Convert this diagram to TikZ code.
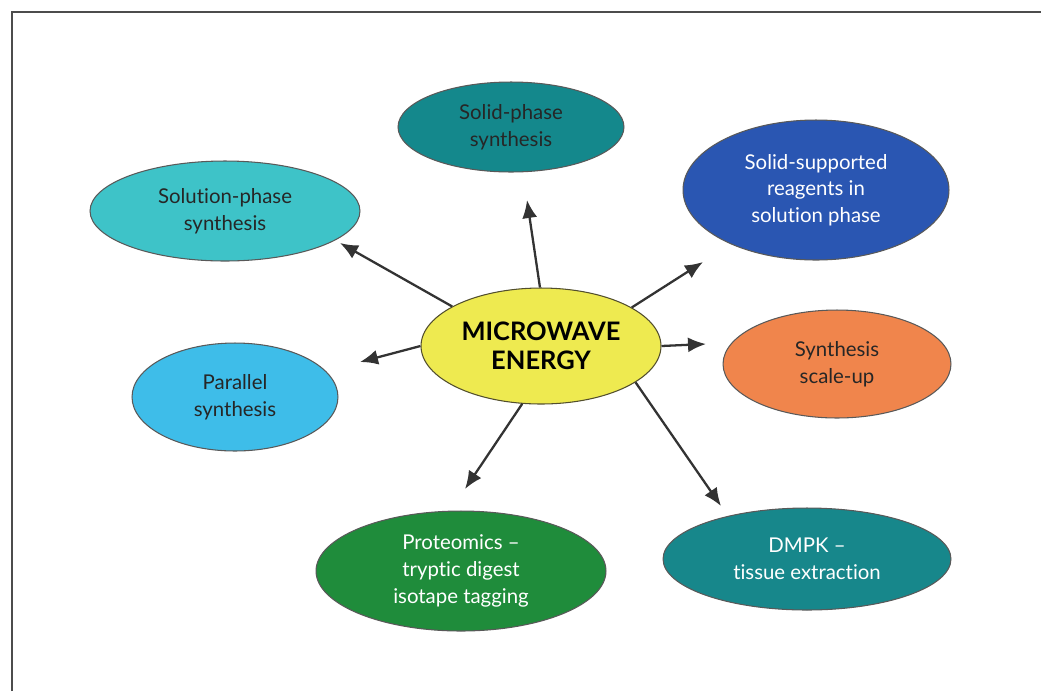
\documentclass[tikz,border=0pt]{standalone}
\usepackage{fontspec}
\setmainfont{Lato}[Ligatures={NoCommon}]
\usetikzlibrary{shapes.geometric,arrows.meta}
\definecolor{mwyellow}{HTML}{EEEA50}
\definecolor{spteal}{HTML}{14888C}
\definecolor{solcyan}{HTML}{3EC3C8}
\definecolor{ssblue}{HTML}{2A56B2}
\definecolor{suorange}{HTML}{F0854C}
\definecolor{parblue}{HTML}{3EBDE9}
\definecolor{protgreen}{HTML}{1F8C3B}
\definecolor{dmteal}{HTML}{17878B}
\begin{document}
\begin{tikzpicture}[x=0.02cm,y=-0.02cm,
  blob/.style={ellipse,draw=black!65,line width=0.6pt,inner sep=0pt,align=center,
    font=\fontsize{11.6}{15.2}\selectfont},
  arr/.style={draw=black!80,line width=1.3pt,-{Latex[length=3.6mm,width=3mm]}}]
\useasboundingbox (0,0) rectangle (1041,691);
\draw[line width=1.2pt,black!70] (12,691) -- (12,12) -- (1041,12);

\node[blob,fill=mwyellow,draw=black!55!olive,minimum width=4.8cm,minimum height=2.32cm,
  font=\fontsize{14.5}{16.5}\selectfont\bfseries] (mw) at (541,346) {MICROWAVE\\ENERGY};

\node[blob,fill=spteal,text=black!85,minimum width=4.52cm,minimum height=1.8cm] (sp) at (511,127) {Solid-phase\\synthesis};
\node[blob,fill=solcyan,text=black!85,minimum width=5.4cm,minimum height=2.0cm] (sol) at (225,211) {Solution-phase\\synthesis};
\node[blob,fill=ssblue,text=white,minimum width=5.32cm,minimum height=2.8cm] (ss) at (816,190) {Solid-supported\\reagents in\\solution phase};
\node[blob,fill=suorange,text=black!85,minimum width=4.56cm,minimum height=2.16cm] (su) at (837,364) {Synthesis\\scale-up};
\node[blob,fill=parblue,text=black!85,minimum width=4.12cm,minimum height=2.16cm] (par) at (235,397) {Parallel\\synthesis};
\node[blob,fill=protgreen,text=white,minimum width=5.8cm,minimum height=2.4cm] (prot) at (461,571) {Proteomics --\\tryptic digest\\isotape tagging};
\node[blob,fill=dmteal,text=white,minimum width=5.76cm,minimum height=2.04cm] (dm) at (807,559) {DMPK --\\tissue extraction};

\coordinate (tsp) at (527,200);
\coordinate (tsol) at (340,243);
\coordinate (tss) at (703,262);
\coordinate (tsu) at (706,344);
\coordinate (tpar) at (360,362);
\coordinate (tprot) at (465,489);
\coordinate (tdm) at (721,506);

\draw[arr] (mw.91) -- (tsp);
\draw[arr] (mw.156) -- (tsol);
\draw[arr] (mw.23) -- (tss);
\draw[arr] (mw.east) -- (tsu);
\draw[arr] (mw.west) -- (tpar);
\draw[arr] (mw.-108) -- (tprot);
\draw[arr] (mw.-21) -- (tdm);
\end{tikzpicture}
\end{document}
